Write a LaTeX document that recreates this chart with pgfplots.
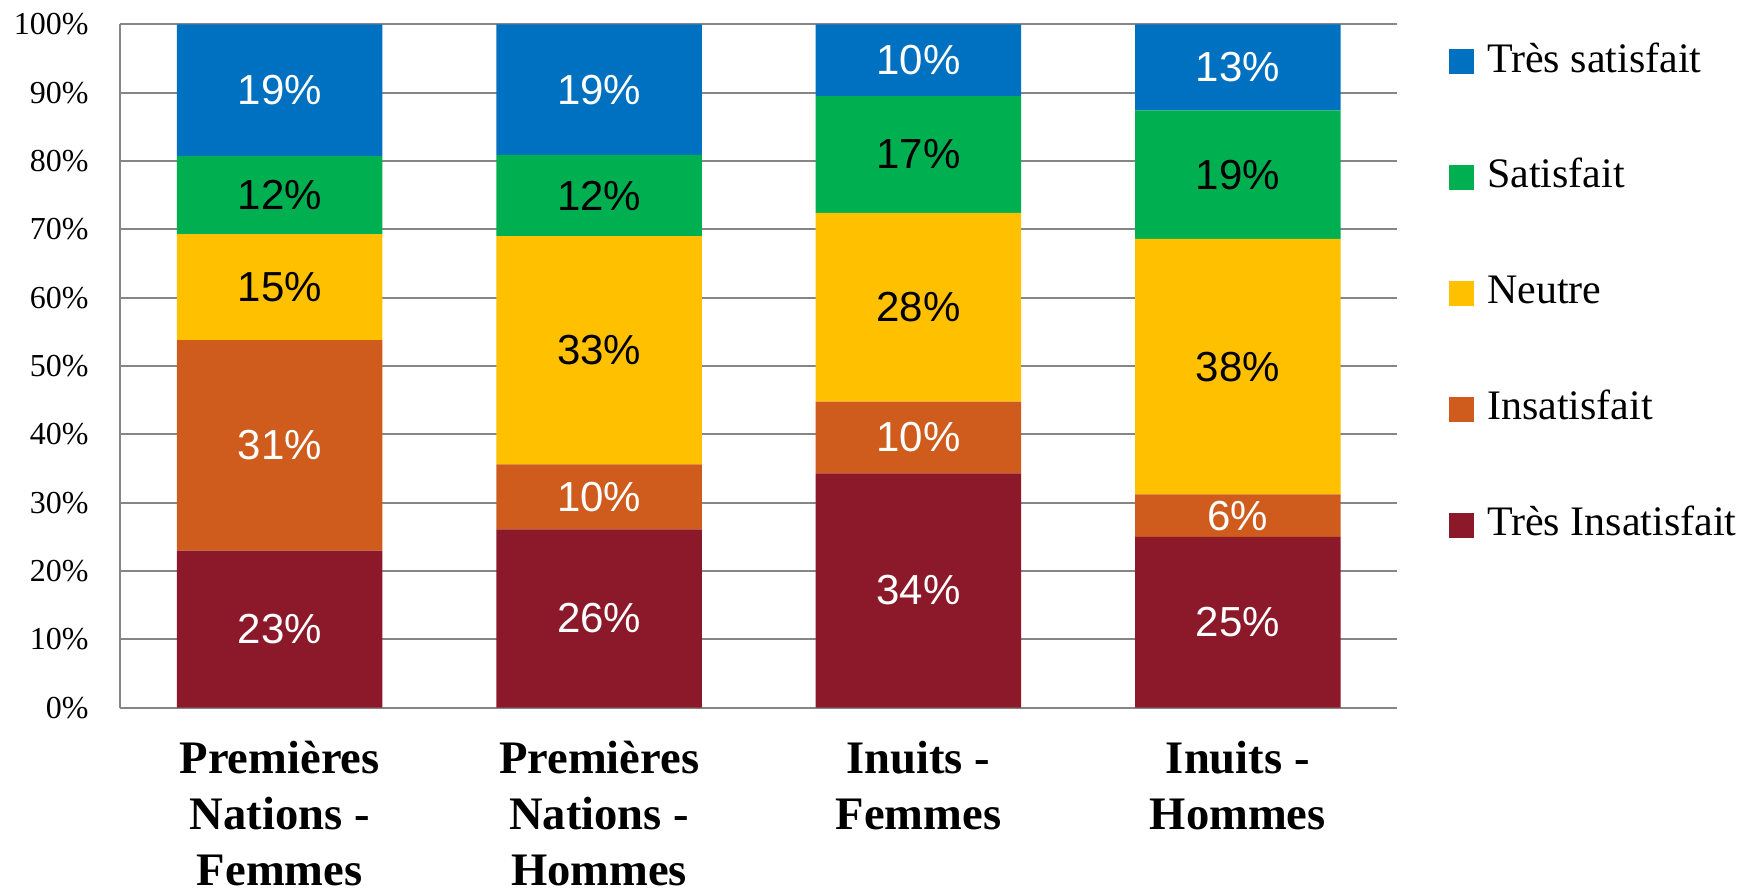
\documentclass[border=0pt]{standalone}
\usepackage{pgfplots}
\pgfplotsset{compat=1.18}
\usepackage{fontspec}
\setmainfont{Liberation Serif}
\newfontfamily\labelfont{Liberation Sans}
\newfontfamily\tickfont{Liberation Serif}
\definecolor{cRed}{HTML}{8C1929}
\definecolor{cOrange}{HTML}{CF5B1C}
\definecolor{cYellow}{HTML}{FFC000}
\definecolor{cGreen}{HTML}{00B050}
\definecolor{cBlue}{HTML}{0070C0}
\definecolor{cGrid}{HTML}{868686}
\begin{document}
\begin{tikzpicture}
\path[use as bounding box] (-60pt,-90.15pt) rectangle (816.5pt,353.85pt);
\pgfplotsset{common/.style={width=638.75pt, height=341.7pt, scale only axis,
  xmin=-0.5, xmax=3.5, ymin=0, ymax=100, at={(0,0)}, anchor=south west}}
\begin{axis}[common, ybar stacked, bar width=102.8pt,
  xtick={0,1,2,3},
  xticklabels={{Premières\\Nations -\\Femmes},{Premières\\Nations -\\Hommes},{Inuits -\\Femmes},{Inuits -\\Hommes}},
  xticklabel style={align=center, anchor=north, inner sep=0pt, yshift=-16.5pt,
    font=\bfseries\fontsize{23.3}{28}\selectfont},
  ytick={0,10,20,30,40,50,60,70,80,90,100},
  yticklabels={0\%,10\%,20\%,30\%,40\%,50\%,60\%,70\%,80\%,90\%,100\%},
  yticklabel style={anchor=east, inner sep=0pt, xshift=-15.5pt, font=\tickfont\fontsize{16}{17}\selectfont},
  tick style={draw=none}, major tick length=0pt,
  ymajorgrids, grid style={cGrid, line width=1pt},
  axis x line*=bottom, axis y line*=left,
  axis line style={cGrid, line width=1pt, -},
  reverse legend,
  legend cell align=left,
  legend style={at={(1,1)}, anchor=north west, xshift=25.75pt, yshift=-8.7pt,
    draw=none, fill=none, inner sep=0pt, row sep=42pt,
    font=\fontsize{21}{25}\selectfont,
    nodes={inner sep=0pt, text height=15pt, text depth=0pt},
    /tikz/every odd column/.append style={column sep=6.35pt}},
  legend image code/.code={\fill[#1] (0pt,-8.45pt) rectangle (12.5pt,4.05pt);},
]
\addplot[fill=cRed, draw=none] coordinates {(0,23.0) (1,26.1) (2,34.3) (3,25.0)};
\addlegendentry{Très Insatisfait}
\addplot[fill=cOrange, draw=none] coordinates {(0,30.8) (1,9.5) (2,10.5) (3,6.2)};
\addlegendentry{Insatisfait}
\addplot[fill=cYellow, draw=none] coordinates {(0,15.5) (1,33.4) (2,27.6) (3,37.4)};
\addlegendentry{Neutre}
\addplot[fill=cGreen, draw=none] coordinates {(0,11.4) (1,11.9) (2,17.1) (3,18.8)};
\addlegendentry{Satisfait}
\addplot[fill=cBlue, draw=none] coordinates {(0,19.3) (1,19.1) (2,10.5) (3,12.6)};
\addlegendentry{Très satisfait}
\end{axis}
\begin{axis}[common, hide axis, clip=false]
\addplot[draw=none, mark=none, nodes near coords, point meta=explicit symbolic,
  nodes near coords align={anchor=center},
  every node near coord/.append style={font=\labelfont\fontsize{21}{21}\selectfont, text=white}]
  coordinates {(0,11.5)[23\%] (1,13.05)[26\%] (2,17.15)[34\%] (3,12.5)[25\%]
    (0,38.4)[31\%] (1,30.85)[10\%] (2,39.55)[10\%] (3,28.1)[6\%]
    (0,90.35)[19\%] (1,90.45)[19\%] (2,94.75)[10\%] (3,93.7)[13\%]};
\addplot[draw=none, mark=none, nodes near coords, point meta=explicit symbolic,
  nodes near coords align={anchor=center},
  every node near coord/.append style={font=\labelfont\fontsize{21}{21}\selectfont, text=black}]
  coordinates {(0,61.55)[15\%] (1,52.3)[33\%] (2,58.6)[28\%] (3,49.9)[38\%]
    (0,75.0)[12\%] (1,74.95)[12\%] (2,80.95)[17\%] (3,78.0)[19\%]};
\end{axis}
\end{tikzpicture}
\end{document}
